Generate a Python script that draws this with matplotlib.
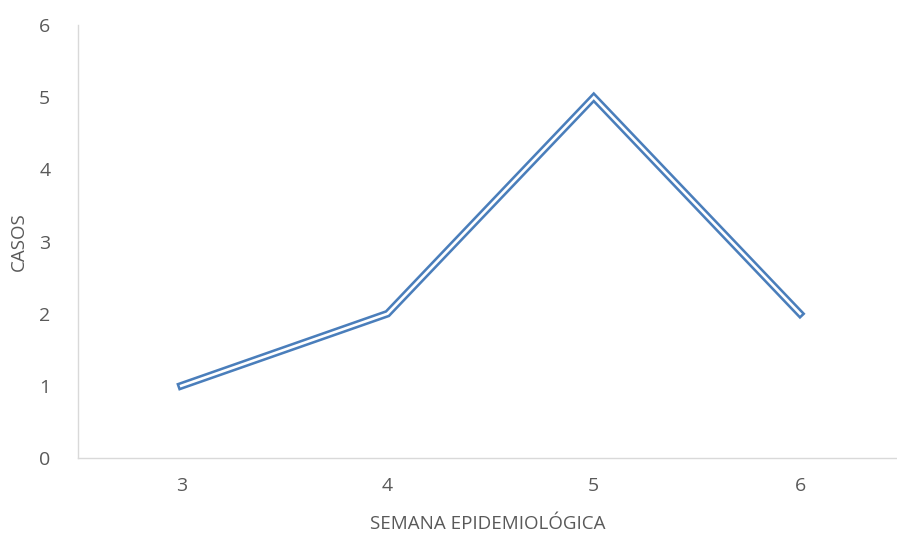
import matplotlib
matplotlib.use('Agg')
from matplotlib import pyplot as plt

semanas = ['3', '4', '5', '6']
casos   = [1, 2, 5, 2]

plt.rcParams['font.family'] = ['Open Sans', 'DejaVu Sans']

fig = plt.figure(figsize=(8.97, 5.35), dpi=100, facecolor='w')
ax = fig.add_axes([0.087, 0.144, 0.913, 0.809])

x = range(len(semanas))
# double line: thick blue with a thin white core
ax.plot(x, casos, '-', color='#4a7ebb', linewidth=5.6, solid_joinstyle='miter')
ax.plot(x, casos, '-', color='white', linewidth=1.9, solid_joinstyle='miter')

ax.set_xlim(-0.5, 3.47)
ax.set_ylim(0, 6)
ax.set_xticks(list(x))
ax.set_xticklabels(semanas)
ax.set_yticks(range(0, 7))

for s in ['top', 'right']:
    ax.spines[s].set_visible(False)
for s in ['left', 'bottom']:
    ax.spines[s].set_color('#d9d9d9')
    ax.spines[s].set_linewidth(1)

ax.tick_params(length=0, labelsize=14, colors='#595959', pad=14)
ax.tick_params(axis='y', pad=20)
ax.set_xlabel('SEMANA EPIDEMIOLÓGICA', fontsize=13.5, color='#595959', labelpad=14)
ax.set_ylabel('CASOS', fontsize=13.5, color='#595959', labelpad=8)

plt.savefig('out.png', dpi=100)
